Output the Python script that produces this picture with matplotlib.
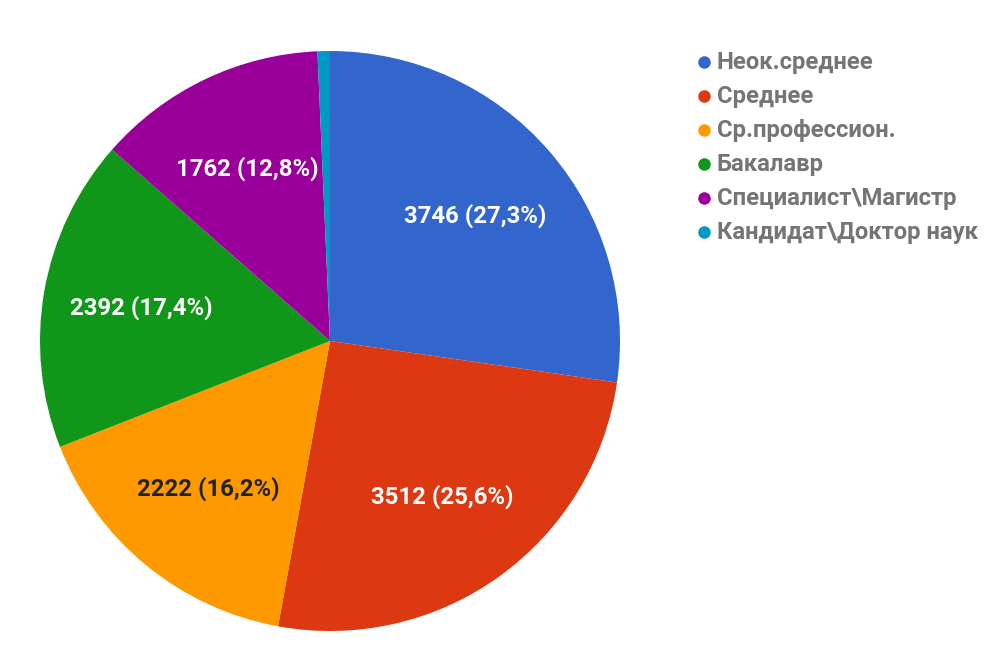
import matplotlib
matplotlib.use("Agg")
import matplotlib.pyplot as plt
from matplotlib.lines import Line2D
import numpy as np

plt.rcParams['font.family'] = ['Roboto', 'DejaVu Sans']

categories = ["Неок.среднее", "Среднее", "Ср.профессион.", "Бакалавр",
              "Специалист\\Магистр", "Кандидат\\Доктор наук"]
values = [3746, 3512, 2222, 2392, 1762, 95]
colors = ["#3366cc", "#dc3912", "#ff9900", "#109618", "#990099", "#0099c6"]
label_colors = ["white", "white", "#222222", "white", "white", "white"]

W, H = 1000, 667
fig = plt.figure(figsize=(10, 6.67), dpi=100)
cx, cy, R = 330, 341, 290
ax = fig.add_axes([(cx - R) / W, (H - cy - R) / H, 2 * R / W, 2 * R / H])

total = sum(values)
wedges, texts = ax.pie(values, colors=colors, startangle=90, counterclock=False,
                       radius=1, wedgeprops=dict(linewidth=0))
ax.set_xlim(-1, 1)
ax.set_ylim(-1, 1)
ax.set_aspect('equal')
ax.axis('off')

for w, v, lc in zip(wedges, values, label_colors):
    pct = v / total * 100
    if pct < 5:
        continue
    ang = np.deg2rad((w.theta1 + w.theta2) / 2)
    d = 0.66
    ax.text(d * np.cos(ang), d * np.sin(ang),
            f"{v} ({pct:.1f}%)".replace('.', ','),
            ha='center', va='center', color=lc, fontsize=17.2, fontweight='bold')

# legend
y0 = 62
dy = 34
for i, (c, name) in enumerate(zip(colors, categories)):
    y = 1 - (y0 + i * dy) / H
    fig.add_artist(Line2D([704 / W], [y], marker='o', markersize=8, color=c,
                          linestyle='none', transform=fig.transFigure))
    fig.text(717 / W, y, name, ha='left', va='center', color='#757575',
             fontsize=17.2, fontweight='bold')

fig.savefig("out.png", dpi=100, facecolor='white')
